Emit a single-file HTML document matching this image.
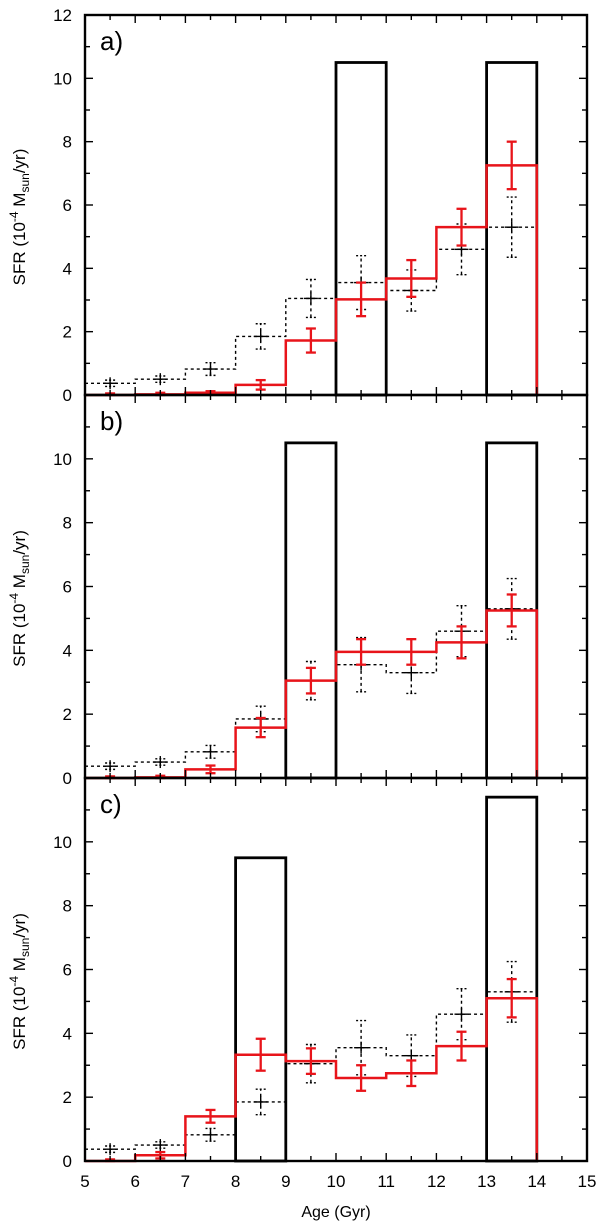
<!DOCTYPE html>
<html><head><meta charset="utf-8">
<style>
html,body{margin:0;padding:0;background:#fff;}
svg{display:block;font-family:"Liberation Sans",sans-serif;}
</style></head>
<body>
<svg id="chart" width="600" height="1225" viewBox="0 0 600 1225" xmlns="http://www.w3.org/2000/svg"></svg>
<script>
const binStarts = [5,6,7,8,9,10,11,12,13];
const xTicks = [5,6,7,8,9,10,11,12,13,14,15];
const yTicks = [0,2,4,6,8,10,12];
const panelLabels = ["a)","b)","c)"];
const refValues = [0.37,0.5,0.82,1.85,3.05,3.55,3.3,4.6,5.3];
const refErrors = [0.1,0.1,0.2,0.4,0.6,0.85,0.65,0.8,0.95];
const redA = [0,0.02,0.07,0.32,1.72,3.02,3.68,5.3,7.25];
const redAErr = [0.05,0.05,0.05,0.15,0.38,0.53,0.58,0.58,0.75];
const redB = [0,0.02,0.27,1.58,3.05,3.95,3.95,4.25,5.25];
const redBErr = [0.05,0.05,0.12,0.3,0.4,0.4,0.4,0.5,0.5];
const redC = [0,0.18,1.4,3.33,3.13,2.6,2.75,3.6,5.1];
const redCErr = [0.05,0.1,0.2,0.5,0.4,0.4,0.4,0.45,0.6];
const boxesA = [[10,11,10.5],[13,14,10.5]];
const boxesB = [[9,10,10.5],[13,14,10.5]];
const boxesC = [[8,9,9.5],[13,14,11.4]];

const NS="http://www.w3.org/2000/svg";
const svg=document.getElementById('chart');
const X0=85,X1=587;
const xs=v=>X0+(v-5)*(X1-X0)/10;
function mk(tag,attrs,parent){const e=document.createElementNS(NS,tag);for(const k in attrs)e.setAttribute(k,attrs[k]);(parent||svg).appendChild(e);return e;}

const panels=[
 {top:15,bot:395,red:redA,err:redAErr,boxes:boxesA},
 {top:395,bot:778,red:redB,err:redBErr,boxes:boxesB},
 {top:778,bot:1161,red:redC,err:redCErr,boxes:boxesC}
];

function stepPath(ys,vals){
  let d=`M${xs(5)},${ys(vals[0])}`;
  binStarts.forEach((b,i)=>{d+=` L${xs(b)},${ys(vals[i])} L${xs(b+1)},${ys(vals[i])}`;});
  d+=` L${xs(14)},${ys(0)}`;
  return d;
}

panels.forEach((p,pi)=>{
  const g=mk('g',{});
  
  
  const ys=v=>p.bot-v*(p.bot-p.top)/12;
  p.boxes.forEach(bx=>{
    const r=mk('rect',{x:xs(bx[0]),y:ys(bx[2]),width:xs(bx[1])-xs(bx[0]),height:ys(0)-ys(bx[2]),fill:'none',stroke:'#000','stroke-width':2.8},g);
    
    
  });
  const dp=mk('path',{d:stepPath(ys,refValues),fill:'none',stroke:'#000','stroke-width':1.4,'stroke-dasharray':'3,3'},g);
  
  
  binStarts.forEach((b,i)=>{
    const cx=xs(b+0.5),w=5;
    const e=mk('g',{stroke:'#000','stroke-width':1.4},g);
    
    
    mk('line',{x1:cx,x2:cx,y1:ys(refValues[i]-refErrors[i]),y2:ys(refValues[i]+refErrors[i]),'stroke-dasharray':'3,3'},e);
    mk('line',{x1:cx-w,x2:cx+w,y1:ys(refValues[i]-refErrors[i]),y2:ys(refValues[i]-refErrors[i]),'stroke-dasharray':'2,2'},e);
    mk('line',{x1:cx-w,x2:cx+w,y1:ys(refValues[i]+refErrors[i]),y2:ys(refValues[i]+refErrors[i]),'stroke-dasharray':'2,2'},e);
    mk('line',{x1:cx-7,x2:cx+7,y1:ys(refValues[i]),y2:ys(refValues[i])},e);
    mk('line',{x1:cx,x2:cx,y1:ys(refValues[i])-6,y2:ys(refValues[i])+6},e);
  });
  const rp=mk('path',{d:stepPath(ys,p.red),fill:'none',stroke:'#e8141a','stroke-width':2.5},g);
  
  
  binStarts.forEach((b,i)=>{
    const cx=xs(b+0.5),w=5;
    const e=mk('g',{stroke:'#e8141a','stroke-width':2.3},g);
    
    
    const lo=Math.max(0,p.red[i]-p.err[i]),hi=p.red[i]+p.err[i];
    mk('line',{x1:cx,x2:cx,y1:ys(lo),y2:ys(hi)},e);
    mk('line',{x1:cx-w,x2:cx+w,y1:ys(lo),y2:ys(lo)},e);
    mk('line',{x1:cx-w,x2:cx+w,y1:ys(hi),y2:ys(hi)},e);
  });
  for(let v=5;v<=15.001;v+=0.5){
    const L=(Math.abs(v-Math.round(v))<0.01)?8:5;
    mk('line',{x1:xs(v),x2:xs(v),y1:p.bot,y2:p.bot-L,stroke:'#000','stroke-width':1.4},g);
    mk('line',{x1:xs(v),x2:xs(v),y1:p.top,y2:p.top+L,stroke:'#000','stroke-width':1.4},g);
  }
  for(let v=0;v<=12;v+=1){
    const L=v%2===0?8:5;
    mk('line',{x1:X0,x2:X0+L,y1:ys(v),y2:ys(v),stroke:'#000','stroke-width':1.4},g);
    mk('line',{x1:X1,x2:X1-L,y1:ys(v),y2:ys(v),stroke:'#000','stroke-width':1.4},g);
  }
  yTicks.forEach(t=>{
    if(pi>0&&t===12)return;
    const tx=mk('text',{x:72,y:ys(t)+6,'text-anchor':'end','font-size':17},g);
    tx.textContent=t;
    
    
  });
  const fr=mk('rect',{x:X0,y:p.top,width:X1-X0,height:p.bot-p.top,fill:'none',stroke:'#000','stroke-width':2.4},g);
  
  
  const pl=mk('text',{x:100,y:p.top+35,'font-size':26},g);
  pl.textContent=panelLabels[pi];
  
  
  const cy=(p.top+p.bot)/2+12;
  const yt=mk('text',{transform:`translate(25,${cy}) rotate(-90)`,'text-anchor':'middle','font-size':17},g);
  yt.innerHTML='SFR (10<tspan dy="-7" font-size="12">-4</tspan><tspan dy="7"> M</tspan><tspan dy="4" font-size="12">sun</tspan><tspan dy="-4">/yr)</tspan>';
  
  
});
xTicks.forEach(t=>{
  const tx=mk('text',{x:xs(t),y:1187,'text-anchor':'middle','font-size':17});
  tx.textContent=t;
  
  
});
const xt=mk('text',{x:xs(10),y:1217,'text-anchor':'middle','font-size':16});
xt.textContent='Age (Gyr)';


</script>
</body></html>
